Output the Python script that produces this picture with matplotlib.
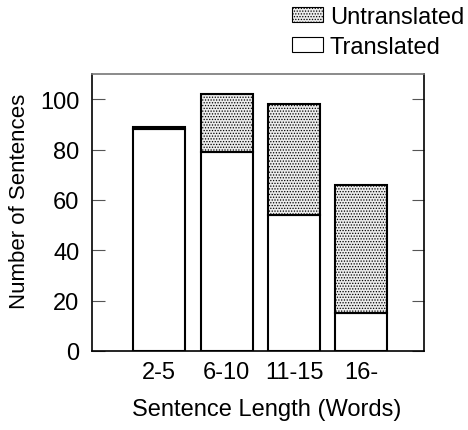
import numpy as np
import matplotlib.pyplot as plt
from matplotlib.patches import Patch

plt.rcParams['font.family'] = ['Liberation Sans', 'DejaVu Sans']
plt.rcParams['hatch.color'] = '#999999'
plt.rcParams['hatch.linewidth'] = 0.6

categories = ['2-5', '6-10', '11-15', '16-']
translated = [88, 79, 54, 15]
untranslated = [1, 23, 44, 51]

fig = plt.figure(figsize=(4.68, 4.31), dpi=100)
ax = fig.add_axes([92 / 468, 79 / 431, 332 / 468, 277 / 431])

x = np.arange(1, len(categories) + 1)
w = 0.77
ax.bar(x, translated, w, color='white', edgecolor='black', linewidth=1.5)
ax.bar(x, untranslated, w, bottom=translated, color='#ececec',
       edgecolor='black', linewidth=1.5, hatch='......')

ax.set_xlim(0, 4.93)
ax.set_ylim(0, 110)
ax.set_xticks(x)
ax.set_xticklabels(categories)
ax.set_yticks([0, 20, 40, 60, 80, 100])
ax.tick_params(axis='x', length=0, labelsize=17, pad=7)
ax.tick_params(axis='y', direction='in', length=9, labelsize=17,
               right=True, color='#555555', pad=9)
for s in ax.spines.values():
    s.set_linewidth(1.2)
ax.spines['top'].set_color('#777777')

ax.set_xlabel('Sentence Length (Words)', fontsize=17)
ax.xaxis.set_label_coords(0.527, -0.168)
ax.set_ylabel('Number of Sentences', fontsize=16)
ax.yaxis.set_label_coords(-0.187, 0.545)

handles = [Patch(facecolor='#ececec', edgecolor='black', hatch='......', linewidth=0.8),
           Patch(facecolor='white', edgecolor='black', linewidth=0.8)]
fig.legend(handles, ['Untranslated', 'Translated'], loc='upper left',
           bbox_to_anchor=(292 / 468, 1 - 7 / 431), frameon=False, fontsize=17,
           borderpad=0, borderaxespad=0,
           handlelength=1.3, handleheight=0.6, handletextpad=0.3, labelspacing=0.35)

fig.savefig('out.png', dpi=100)
